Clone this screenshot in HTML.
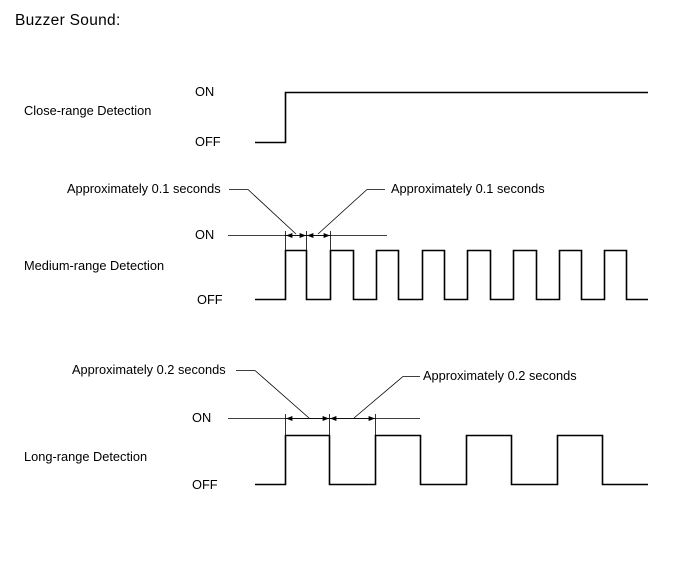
<!DOCTYPE html>
<html><head><style>
body{margin:0;background:#fff;}
svg text{font-family:"Liberation Sans",Arial,sans-serif;font-size:12.8px;fill:#000;}
</style></head><body>
<svg width="688" height="560" xmlns="http://www.w3.org/2000/svg">
<defs>
<marker id="a" viewBox="0 0 10 10" refX="10" refY="5" markerWidth="8" markerHeight="8" orient="auto-start-reverse"><path d="M0,1 L10,5 L0,9z" fill="#000"/></marker>
</defs>
<text x="15" y="25" style="font-size:15.5px;letter-spacing:0.3px">Buzzer Sound:</text>
<g fill="none" stroke="#000">
<path d="M255,142.5 H285.5 V92.5 H648" stroke-width="1.6"/>
<path d="M255,299.5 H285.5 V250.5 H306.5 V299.5 H330.5 V250.5 H353.5 V299.5 H376.5 V250.5 H398.5 V299.5 H422.5 V250.5 H444.5 V299.5 H467.5 V250.5 H490.5 V299.5 H513.5 V250.5 H536.5 V299.5 H559.5 V250.5 H581.5 V299.5 H604.5 V250.5 H626.5 V299.5 H648" stroke-width="1.6"/>
<path d="M255,484.5 H285.5 V435.5 H329.5 V484.5 H375.5 V435.5 H420.5 V484.5 H466.5 V435.5 H511.5 V484.5 H557.5 V435.5 H602.5 V484.5 H648" stroke-width="1.6"/>
<g stroke-width="0.8">
<path d="M228,235.5 H387"/>
<path d="M285.5,231 V250 M306.5,231 V250 M330.5,231 V250"/>
<path d="M296,235.5 H286" marker-end="url(#a)"/><path d="M296,235.5 H306" marker-end="url(#a)"/>
<path d="M318,235.5 H307" marker-end="url(#a)"/><path d="M318,235.5 H330" marker-end="url(#a)"/>
<path d="M229,189.5 H248 L296,234"/>
<path d="M318,234 L367,189.5 H385"/>
<path d="M228,418.5 H420"/>
<path d="M285.5,414 V435 M329.5,414 V435 M375.5,414 V435"/>
<path d="M309,418.5 H286" marker-end="url(#a)"/><path d="M309,418.5 H329" marker-end="url(#a)"/>
<path d="M354,418.5 H330" marker-end="url(#a)"/><path d="M354,418.5 H375" marker-end="url(#a)"/>
<path d="M236,370.5 H255 L309,418"/>
<path d="M354,418 L403,376.5 H420"/>
</g>
</g>
<text x="195" y="96">ON</text>
<text x="195" y="146">OFF</text>
<text x="24" y="115">Close-range Detection</text>
<text x="67" y="193">Approximately 0.1 seconds</text>
<text x="391" y="193">Approximately 0.1 seconds</text>
<text x="195" y="239">ON</text>
<text x="24" y="270">Medium-range Detection</text>
<text x="197" y="304">OFF</text>
<text x="72" y="374">Approximately 0.2 seconds</text>
<text x="423" y="380">Approximately 0.2 seconds</text>
<text x="192" y="422">ON</text>
<text x="24" y="461">Long-range Detection</text>
<text x="192" y="489">OFF</text>
</svg>
</body></html>
